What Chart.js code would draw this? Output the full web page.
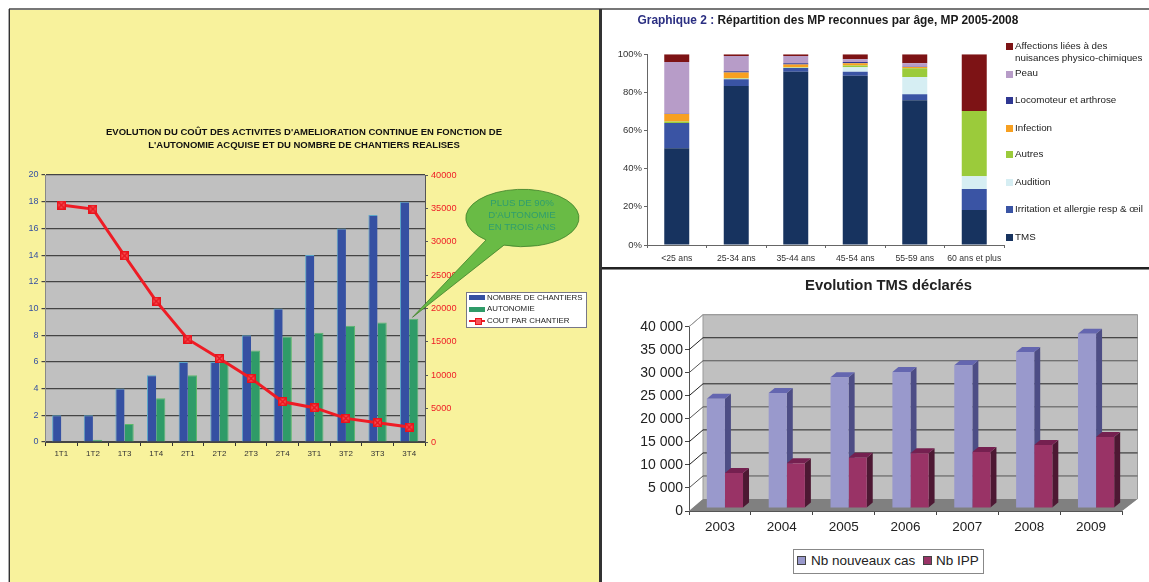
<!DOCTYPE html>
<html><head><meta charset="utf-8">
<script src="https://cdn.jsdelivr.net/npm/chart.js@4"></script>
<style>
html,body{margin:0;padding:0;background:#fff;overflow:hidden}
#root{position:relative;width:1149px;height:582px;overflow:hidden;font-family:"Liberation Sans",Arial,sans-serif;filter:blur(.45px)}
#root>*{position:absolute}
.t{white-space:nowrap;line-height:1;transform:translateY(-50%)}
.c{transform:translate(-50%,-50%)}
</style></head><body><div id="root"></div>
<script>
// ---- Chart 1 data
const periods=['1T1','1T2','1T3','1T4','2T1','2T2','2T3','2T4','3T1','3T2','3T3','3T4'];
const chantiers=[2,2,4,5,6,6,8,10,14,16,17,18];
const autonomie=[0,0.17,1.35,3.27,5,6,6.86,7.9,8.18,8.7,8.95,9.23];
const coutParChantier=[35500,34900,27900,21100,15400,12500,9530,6030,5140,3540,2890,2240];
// ---- Chart 2 data
const ages=['<25 ans','25-34 ans','35-44 ans','45-54 ans','55-59 ans','60 ans et plus'];
const tms=[50.7,83.4,90.9,88.8,75.9,18.4];
const irritation=[13.3,3.5,1.9,2.1,3.1,11];
const audition=[0,0.3,0.2,2.3,9.1,6.6];
const autres=[0.7,0.2,0.2,0.9,4.6,34.3];
const infection=[4,3,1.4,1.2,0.7,0];
const locomoteur=[0.1,0.7,0.7,0.7,0.1,0];
const peau=[27.2,8,3.8,1.4,1.8,0];
const affections=[4,0.9,0.9,2.6,4.7,29.7];
// ---- Chart 3 data
const years=['2003','2004','2005','2006','2007','2008','2009'];
const nouveauxCas=[23700,24960,28360,29500,30970,33860,37840];
const ipp=[7600,9700,10900,11870,12150,13680,15400];

const FONT='"Liberation Sans",Arial,sans-serif';
Chart.defaults.font.family=FONT;
const root=document.getElementById('root');
function box(x,y,w,h,css){const d=document.createElement('div');d.style.cssText=`left:${x}px;top:${y}px;width:${w}px;height:${h}px;${css||''}`;root.appendChild(d);return d;}
function txt(x,y,s,size,css,center){const d=document.createElement('div');d.className=center?'t c':'t';d.style.cssText=`left:${x}px;top:${y}px;font-size:${size}px;${css||''}`;d.innerHTML=s;root.appendChild(d);return d;}
function canvas(x,y,w,h){const c=document.createElement('canvas');c.width=w;c.height=h;c.style.cssText=`left:${x}px;top:${y}px;width:${w}px;height:${h}px`;root.appendChild(c);return c;}
function fixedWidth(w){return s=>{s.width=w;};}
function fixedHeight(h){return s=>{s.height=h;};}

// ---- panels
box(10,9,589,573,'background:#F8F29C');
box(9,8,1140,2,'background:#777');
box(8,9,1,573,'background:#aaa');
box(9,9,1,573,'background:#333');
box(599,9,3,573,'background:#333');
box(602,267,547,2,'background:#222');
box(602,269,547,1,'background:#888');

// ---- marker for the red line
const mk=document.createElement('canvas');mk.width=9;mk.height=9;
(function(){const g=mk.getContext('2d');g.fillStyle='#F7545A';g.fillRect(0,0,9,9);g.strokeStyle='#E8141C';g.lineWidth=1.5;g.strokeRect(.7,.7,7.6,7.6);g.beginPath();g.moveTo(1,1);g.lineTo(8,8);g.moveTo(8,1);g.lineTo(1,8);g.stroke();})();

const plotBg={id:'plotBg',beforeDraw(ch,a,o){if(!o.color)return;const c=ch.chartArea,g=ch.ctx;g.fillStyle=o.color;g.fillRect(c.left,c.top,c.width,c.height);}};
const callout={id:'callout',afterDraw(ch,a,o){if(!o.on)return;const g=ch.ctx,ox=10,oy=10;g.save();g.translate(-ox,-oy);
 g.beginPath();g.ellipse(522.4,218,56.6,28.7,0,130*Math.PI/180,(109+360)*Math.PI/180);g.lineTo(412.5,317.3);g.closePath();
 g.fillStyle='#69BB45';g.fill();g.strokeStyle='#3F7F2A';g.lineWidth=.8;g.stroke();g.restore();}};

// ---- Chart 1
new Chart(canvas(10,10,588,572),{plugins:[plotBg,callout],data:{labels:periods,datasets:[
 {type:'line',label:'COUT PAR CHANTIER',data:coutParChantier,yAxisID:'y1',order:0,borderColor:'#EE1C25',borderWidth:3,pointStyle:mk,tension:0,clip:false},
 {type:'bar',label:'NOMBRE DE CHANTIERS',data:chantiers,yAxisID:'y',order:1,backgroundColor:'#3550A2',borderColor:'#5BA6C8',borderWidth:{left:1,top:1,right:0,bottom:0},categoryPercentage:.58,barPercentage:1},
 {type:'bar',label:'AUTONOMIE',data:autonomie,yAxisID:'y',order:1,backgroundColor:'#2F9B68',borderColor:'#5CB86A',borderWidth:{left:0,top:1,right:1,bottom:0},categoryPercentage:.58,barPercentage:1}
]},options:{responsive:false,animation:false,devicePixelRatio:1,layout:{padding:{left:0,top:165,right:137,bottom:120}},
 plugins:{legend:{display:false},title:{display:false},tooltip:{enabled:false},plotBg:{color:'#C0C0C0'},callout:{on:true}},
 scales:{
  x:{afterFit:fixedHeight(20),grid:{drawOnChartArea:false,color:'#333',tickLength:4},border:{color:'#444'},ticks:{color:'#333',font:{size:8},maxRotation:0,autoSkip:false,padding:3}},
  y:{position:'left',min:0,max:20,afterFit:fixedWidth(35.5),grid:{color:'#444',tickLength:4,lineWidth:1.2},border:{color:'#888'},ticks:{stepSize:2,color:'#3550A2',font:{size:9},padding:3}},
  y1:{position:'right',min:0,max:40000,afterFit:fixedWidth(36),grid:{drawOnChartArea:false,color:'#555',tickLength:3},border:{color:'#555'},ticks:{stepSize:5000,color:'#EE1C25',font:{size:9.2},padding:3,callback:v=>String(v)}}
 }}});

txt(304,132.3,"EVOLUTION DU COÛT DES ACTIVITES D'AMELIORATION CONTINUE EN FONCTION DE",9.5,'font-weight:bold;color:#111',true);
txt(304,144.7,"L'AUTONOMIE ACQUISE ET DU NOMBRE DE CHANTIERS REALISES",9.5,'font-weight:bold;color:#111',true);
["PLUS DE 90%","D'AUTONOMIE","EN TROIS ANS"].forEach((s,i)=>txt(522,203.3+i*11.9,s,9.7,'color:#2F9E6E',true));
box(465.5,291.5,119,34,'background:#fff;border:1px solid #778');
const c1legend=[['NOMBRE DE CHANTIERS','#3550A2'],['AUTONOMIE','#2F9B68'],['COUT PAR CHANTIER','#EE1C25']];
c1legend.forEach((e,i)=>{const y=297.5+i*11.7;
 if(i<2)box(469,y-2.5,16,5,'background:'+e[1]);
 else{box(469,y-1,16,2.4,'background:'+e[1]);box(474.5,y-2.7,5,5,'background:#F7545A;border:.5px solid #E8141C');}
 txt(487,y,e[0],7.9,'color:#222');});

// ---- Chart 2
const c2sets=[['TMS',tms,'#17335F'],['Irritation et allergie resp &amp; œil',irritation,'#3A54A4'],['Audition',audition,'#D6EEF3'],['Autres',autres,'#9BCB3B'],['Infection',infection,'#F7A021'],['Locomoteur et arthrose',locomoteur,'#2F3792'],['Peau',peau,'#B79CC8'],['Affections liées à des nuisances physico-chimiques',affections,'#7D1315']];
new Chart(canvas(602,10,547,256),{type:'bar',data:{labels:ages,datasets:c2sets.map(s=>({label:s[0].replace('&amp;','&'),data:s[1],backgroundColor:s[2],categoryPercentage:.42,barPercentage:1}))},
 options:{responsive:false,animation:false,devicePixelRatio:1,layout:{padding:{left:0,top:44.3,right:145,bottom:0}},
 plugins:{legend:{display:false},title:{display:false},tooltip:{enabled:false}},
 scales:{
  x:{stacked:true,afterFit:fixedHeight(21),grid:{drawOnChartArea:false,color:'#666',tickLength:3},border:{color:'#666'},ticks:{color:'#333',font:{size:8.7},maxRotation:0,autoSkip:false,padding:5}},
  y:{stacked:true,min:0,max:100,afterFit:fixedWidth(45),grid:{drawOnChartArea:false,color:'#666',tickLength:3},border:{color:'#666'},ticks:{stepSize:20,color:'#333',font:{size:9.5},padding:2,callback:v=>v+'%'}}
 }}});
txt(637.5,20.7,'<span style="color:#2B2F82">Graphique 2 :</span> Répartition des MP reconnues par âge, MP 2005-2008',11.9,'font-weight:bold;color:#1a1a1a');
const legY=[[73,6],[99.7,5],[127.7,4],[153.7,3],[181.7,2],[208.7,1],[236.7,0]];
legY.forEach(e=>{const s=c2sets[e[1]];box(1006,e[0]-2.5,6.5,7,'background:'+s[2]);txt(1015,e[0],s[0],9.8,'color:#222');});
box(1006,43.3,6.5,7,'background:#7D1315');
txt(1015,45.7,'Affections liées à des',9.8,'color:#222');
txt(1015,58.3,'nuisances physico-chimiques',9.8,'color:#222');

// ---- Chart 3 (3D look drawn around the library's bars)
const DX=14,DY=12,FX=5,FY=3,SX=6,SY=5;
const lineCols={5000:'#555',10000:'#222',15000:'#222',20000:'#555',25000:'#222',30000:'#555',35000:'#222',40000:'#999'};
const faces=[{top:'#6466B0',side:'#4D4D85'},{top:'#752050',side:'#4D1833'}];
const threeD={id:'threeD',
 beforeDatasetsDraw(ch){const g=ch.ctx,c=ch.chartArea,y=ch.scales.y;g.save();
  g.fillStyle='#C0C0C0';g.strokeStyle='#999';g.lineWidth=1;
  g.beginPath();g.moveTo(c.left,c.bottom);g.lineTo(c.left+DX,c.bottom-DY);g.lineTo(c.left+DX,c.top-DY);g.lineTo(c.right+15.5,c.top-DY);g.lineTo(c.right+15.5,c.bottom-DY);g.lineTo(c.right,c.bottom);g.closePath();g.fill();
  g.beginPath();g.moveTo(c.left,c.top);g.lineTo(c.left+DX,c.top-DY);g.lineTo(c.right+15.5,c.top-DY);g.lineTo(c.right+15.5,c.bottom-DY);g.moveTo(c.left+DX,c.top-DY);g.lineTo(c.left+DX,c.bottom-DY);g.stroke();
  y.ticks.forEach(t=>{if(t.value===0)return;const p=y.getPixelForValue(t.value);g.strokeStyle=lineCols[t.value]||'#444';g.beginPath();g.moveTo(c.left,p);g.lineTo(c.left+DX,p-DY);g.lineTo(c.right+15.5,p-DY);g.stroke();});
  g.fillStyle='#808080';g.beginPath();g.moveTo(c.left,c.bottom);g.lineTo(c.left+DX,c.bottom-DY);g.lineTo(c.right+15.5,c.bottom-DY);g.lineTo(c.right,c.bottom);g.closePath();g.fill();
  g.translate(FX,-FY);
  [0,1].forEach(i=>{const f=faces[i];ch.getDatasetMeta(i).data.forEach(b=>{const l=b.x-b.width/2,r=b.x+b.width/2;
   g.fillStyle=f.side;g.beginPath();g.moveTo(r,b.y);g.lineTo(r+SX,b.y-SY);g.lineTo(r+SX,b.base-SY);g.lineTo(r,b.base);g.closePath();g.fill();
   g.fillStyle=f.top;g.beginPath();g.moveTo(l,b.y);g.lineTo(l+SX,b.y-SY);g.lineTo(r+SX,b.y-SY);g.lineTo(r,b.y);g.closePath();g.fill();});});
  g.restore();},
 beforeDatasetDraw(ch){const g=ch.ctx;g.save();g.translate(FX,-FY);},
 afterDatasetDraw(ch){ch.ctx.restore();}
};
new Chart(canvas(602,270,547,312),{type:'bar',plugins:[threeD],data:{labels:years,datasets:[
 {label:'Nb nouveaux cas',data:nouveauxCas,backgroundColor:'#9999CC',clip:false,categoryPercentage:.585,barPercentage:1},
 {label:'Nb IPP',data:ipp,backgroundColor:'#993366',clip:false,categoryPercentage:.585,barPercentage:1}
]},options:{responsive:false,animation:false,devicePixelRatio:1,layout:{padding:{left:0,top:56.7,right:27,bottom:46}},
 plugins:{legend:{display:false},title:{display:false},tooltip:{enabled:false}},
 scales:{
  x:{afterFit:fixedHeight(25),grid:{drawOnChartArea:false,color:'#444',tickLength:4},border:{color:'#555'},ticks:{color:'#222',font:{size:13.5},maxRotation:0,autoSkip:false,padding:4}},
  y:{min:0,max:40000,afterFit:fixedWidth(87),grid:{drawOnChartArea:false,color:'#444',tickLength:4},border:{color:'#555'},ticks:{stepSize:5000,color:'#222',font:{size:14},padding:2,callback:v=>String(v).replace(/\B(?=(\d{3})+$)/,' ')}}
 }}});
txt(888.5,285,'Evolution TMS déclarés',14.8,'font-weight:bold;color:#222',true);
box(793,548.7,189,23,'background:#fff;border:1px solid #888');
box(797,556,9,9,'background:#9999CC;border:1px solid #444;box-sizing:border-box');
txt(811,560.7,'Nb nouveaux cas',13.5,'color:#222');
box(923,556,9,9,'background:#993366;border:1px solid #444;box-sizing:border-box');
txt(936,560.7,'Nb IPP',13.5,'color:#222');
</script></body></html>
